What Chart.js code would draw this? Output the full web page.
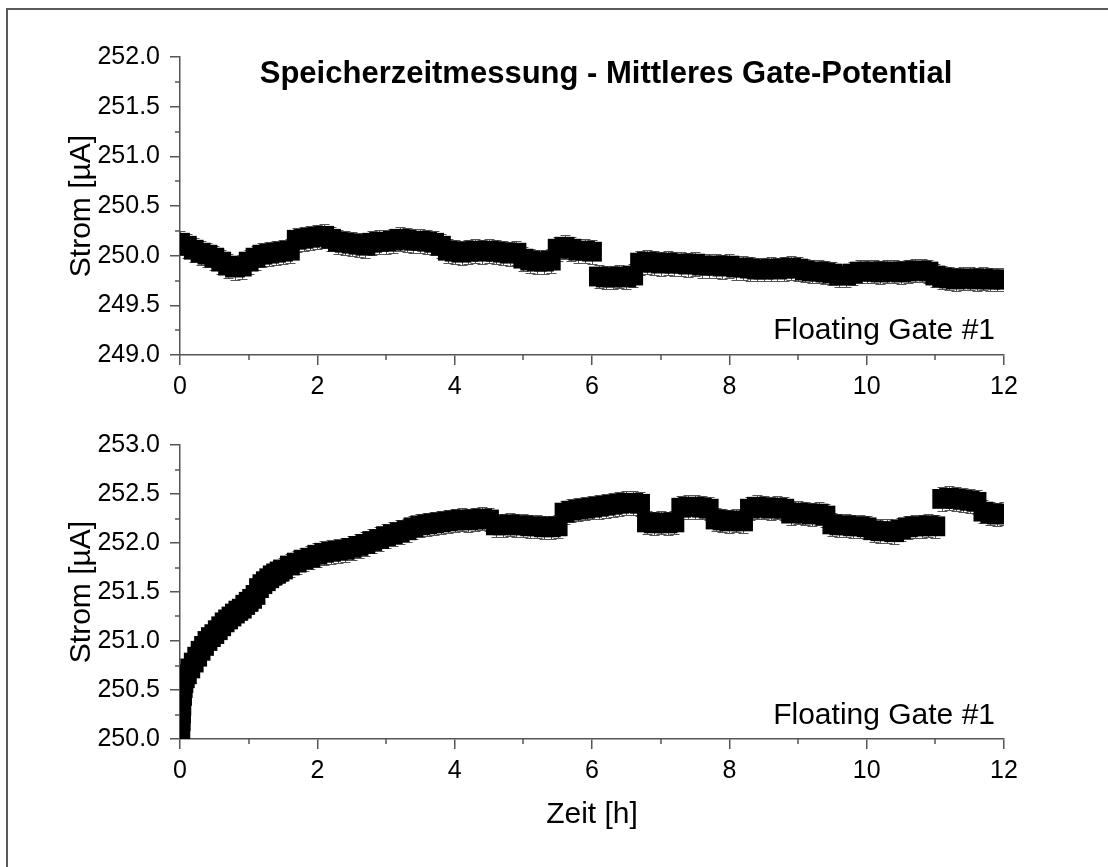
<!DOCTYPE html>
<html>
<head>
<meta charset="utf-8">
<script src="https://cdn.jsdelivr.net/npm/chart.js@4/dist/chart.umd.min.js"></script>
<style>
  html, body { margin: 0; padding: 0; background: #fff; }
  #wrap { position: relative; width: 1108px; height: 867px; overflow: hidden; }
  #frame { position: absolute; left: 6px; top: 8px; width: 1110px; height: 870px;
           border-left: 2px solid #5a5a5a; border-top: 2px solid #5a5a5a; }
  canvas { position: absolute; left: 0; }
  #c1 { top: 0; }
  #c2 { top: 420px; }
</style>
</head>
<body>
<div id="wrap">
  <div id="frame"></div>
  <canvas id="c1" width="1108" height="420"></canvas>
  <canvas id="c2" width="1108" height="447"></canvas>
</div>
<script>
const chartTitle = 'Speicherzeitmessung - Mittleres Gate-Potential';
const panelLabel = 'Floating Gate #1';
const xTitle = 'Zeit [h]';
const yTitle = 'Strom [µA]';

// Panel 1 (upper)
const timeTop = [
  0.0, 0.1, 0.2, 0.3, 0.4, 0.5, 0.6, 0.7, 0.8, 0.9,
  1.0, 1.1, 1.2, 1.3, 1.4, 1.5, 1.6, 1.7, 1.8, 1.9,
  2.0, 2.1, 2.2, 2.3, 2.4, 2.5, 2.6, 2.7, 2.8, 2.9,
  3.0, 3.1, 3.2, 3.3, 3.4, 3.5, 3.6, 3.7, 3.8, 3.9,
  4.0, 4.1, 4.2, 4.3, 4.4, 4.5, 4.6, 4.7, 4.8, 4.9,
  5.0, 5.1, 5.2, 5.3, 5.4, 5.5, 5.6, 5.7, 5.8, 5.9,
  6.0, 6.1, 6.2, 6.3, 6.4, 6.5, 6.6, 6.7, 6.8, 6.9,
  7.0, 7.1, 7.2, 7.3, 7.4, 7.5, 7.6, 7.7, 7.8, 7.9,
  8.0, 8.1, 8.2, 8.3, 8.4, 8.5, 8.6, 8.7, 8.8, 8.9,
  9.0, 9.1, 9.2, 9.3, 9.4, 9.5, 9.6, 9.7, 9.8, 9.9,
  10.0, 10.1, 10.2, 10.3, 10.4, 10.5, 10.6, 10.7, 10.8, 10.9,
  11.0, 11.1, 11.2, 11.3, 11.4, 11.5, 11.6, 11.7, 11.8, 11.9, 12.0
];
const currentTop = [
  250.13, 250.10, 250.06, 250.03, 250.01, 249.98, 249.94, 249.90, 249.88, 249.89,
  249.94, 249.98, 250.01, 250.02, 250.03, 250.04, 250.05, 250.16, 250.17, 250.18,
  250.19, 250.20, 250.17, 250.14, 250.13, 250.12, 250.11, 250.10, 250.13, 250.14,
  250.14, 250.15, 250.17, 250.16, 250.15, 250.15, 250.14, 250.13, 250.10, 250.05,
  250.04, 250.03, 250.04, 250.05, 250.04, 250.05, 250.04, 250.03, 250.02, 250.03,
  249.97, 249.95, 249.94, 249.94, 249.95, 250.07, 250.09, 250.07, 250.05, 250.05,
  250.04, 249.79, 249.78, 249.78, 249.79, 249.78, 249.80, 249.93, 249.94, 249.93,
  249.92, 249.93, 249.92, 249.92, 249.91, 249.92, 249.90, 249.90, 249.90, 249.89,
  249.90, 249.88, 249.88, 249.87, 249.86, 249.86, 249.87, 249.86, 249.87, 249.88,
  249.87, 249.85, 249.84, 249.84, 249.83, 249.82, 249.80, 249.80, 249.82, 249.84,
  249.84, 249.84, 249.83, 249.84, 249.84, 249.83, 249.84, 249.85, 249.85, 249.84,
  249.80, 249.78, 249.77, 249.76, 249.77, 249.77, 249.76, 249.77, 249.76, 249.76, 249.76
];

// Panel 2 (lower)
const timeBottom = [
  0.0, 0.005, 0.01, 0.015, 0.02, 0.03, 0.04, 0.05, 0.07,
  0.1, 0.15, 0.2, 0.25, 0.3, 0.35, 0.4, 0.45, 0.5, 0.55, 0.6, 0.65, 0.7, 0.75, 0.8, 0.85, 0.9, 0.95,
  1.0, 1.05, 1.1, 1.15, 1.2, 1.25, 1.3, 1.35, 1.4, 1.45, 1.5, 1.6, 1.7, 1.8, 1.9,
  2.0, 2.1, 2.2, 2.3, 2.4, 2.5, 2.6, 2.7, 2.8, 2.9,
  3.0, 3.1, 3.2, 3.3, 3.4, 3.5, 3.6, 3.7, 3.8, 3.9,
  4.0, 4.1, 4.2, 4.3, 4.4, 4.5, 4.6, 4.7, 4.8, 4.9,
  5.0, 5.1, 5.2, 5.3, 5.4, 5.5, 5.6, 5.7, 5.8, 5.9,
  6.0, 6.1, 6.2, 6.3, 6.4, 6.5, 6.6, 6.7, 6.8, 6.9,
  7.0, 7.1, 7.2, 7.3, 7.4, 7.5, 7.6, 7.7, 7.8, 7.9,
  8.0, 8.1, 8.2, 8.3, 8.4, 8.5, 8.6, 8.7, 8.8, 8.9,
  9.0, 9.1, 9.2, 9.3, 9.4, 9.5, 9.6, 9.7, 9.8, 9.9,
  10.0, 10.1, 10.2, 10.3, 10.4, 10.5, 10.6, 10.7, 10.8, 10.9,
  11.0, 11.1, 11.2, 11.3, 11.4, 11.5, 11.6, 11.7, 11.8, 11.9, 12.0
];
const currentBottom = [
  250.03, 250.10, 250.18, 250.26, 250.34, 250.44, 250.52, 250.57, 250.62,
  250.66, 250.72, 250.78, 250.84, 250.90, 250.95, 251.00, 251.04, 251.07, 251.11, 251.15, 251.19, 251.22, 251.25, 251.28, 251.31, 251.33, 251.37,
  251.40, 251.43, 251.47, 251.54, 251.58, 251.61, 251.64, 251.67, 251.69, 251.71, 251.73, 251.77, 251.80, 251.83, 251.85,
  251.88, 251.90, 251.91, 251.92, 251.93, 251.95, 251.97, 251.99, 252.02, 252.04,
  252.07, 252.09, 252.11, 252.13, 252.16, 252.18, 252.19, 252.20, 252.21, 252.22,
  252.23, 252.24, 252.23, 252.24, 252.25, 252.24, 252.18, 252.18, 252.19, 252.18,
  252.18, 252.17, 252.17, 252.16, 252.16, 252.17, 252.31, 252.33, 252.34, 252.35,
  252.36, 252.37, 252.38, 252.39, 252.40, 252.41, 252.41, 252.40, 252.21, 252.20,
  252.21, 252.20, 252.21, 252.36, 252.37, 252.37, 252.36, 252.35, 252.24, 252.23,
  252.22, 252.23, 252.22, 252.35, 252.37, 252.36, 252.35, 252.36, 252.35, 252.30,
  252.31, 252.30, 252.29, 252.30, 252.28, 252.19, 252.18, 252.18, 252.17, 252.17,
  252.16, 252.13, 252.12, 252.12, 252.11, 252.14, 252.16, 252.17, 252.17, 252.18,
  252.17, 252.45, 252.46, 252.45, 252.44, 252.43, 252.42, 252.32, 252.30, 252.29, 252.30
];

const errHalf = 0.12;       // half length of the error bars
const yRangeTop = [249, 252];
const yRangeBottom = [250, 253];
const xRange = [0, 12];

const FONT = 'Arial, "Liberation Sans", sans-serif';
const AXIS = '#555';

// error bars (under the markers), minor ticks and free text
const extras = {
  id: 'extras',
  beforeDatasetsDraw(chart) {
    const ctx = chart.ctx;
    const xs = chart.scales.x, ys = chart.scales.y;
    const area = chart.chartArea;
    const pts = chart.data.datasets[0].data;
    ctx.save();
    ctx.beginPath();
    ctx.rect(area.left, area.top, area.right - area.left, area.bottom - area.top);
    ctx.clip();
    ctx.strokeStyle = '#555';
    ctx.lineWidth = 1;
    ctx.beginPath();
    pts.forEach(p => {
      const px = Math.round(xs.getPixelForValue(p.x)) + 0.5;
      const y1 = Math.round(ys.getPixelForValue(p.y + errHalf)) + 0.5;
      const y2 = Math.round(ys.getPixelForValue(p.y - errHalf)) + 0.5;
      ctx.moveTo(px, y1); ctx.lineTo(px, y2);
      ctx.moveTo(px - 5, y1); ctx.lineTo(px + 5, y1);
      ctx.moveTo(px - 5, y2); ctx.lineTo(px + 5, y2);
    });
    ctx.stroke();
    ctx.restore();
  },
  afterDatasetsDraw(chart, args, opts) {
    const ctx = chart.ctx;
    const xs = chart.scales.x, ys = chart.scales.y;
    const area = chart.chartArea;
    ctx.save();
    ctx.strokeStyle = AXIS;
    ctx.lineWidth = 1.5;
    ctx.beginPath();
    for (let t = xs.min + 1; t < xs.max; t += 2) {
      const px = Math.round(xs.getPixelForValue(t));
      ctx.moveTo(px, area.bottom); ctx.lineTo(px, area.bottom + 5);
    }
    for (let v = ys.min + 0.25; v < ys.max; v += 0.5) {
      const py = Math.round(ys.getPixelForValue(v));
      ctx.moveTo(area.left, py); ctx.lineTo(area.left - 5, py);
    }
    ctx.stroke();

    ctx.fillStyle = '#000';
    ctx.textBaseline = 'middle';
    if (opts.title) {
      ctx.font = 'bold 31px ' + FONT;
      ctx.textAlign = 'center';
      ctx.fillText(opts.title, opts.titleX, opts.titleY);
    }
    ctx.font = '30px ' + FONT;
    ctx.textAlign = 'right';
    ctx.fillText(opts.label, opts.labelX, opts.labelY);
    ctx.restore();
  }
};

function makePanel(canvasId, times, values, yRange, cfg) {
  const points = times.map((t, i) => ({ x: t, y: values[i] }));
  return new Chart(document.getElementById(canvasId), {
    type: 'scatter',
    data: {
      datasets: [{
        data: points,
        pointStyle: 'rect',
        pointRadius: 14,
        backgroundColor: '#000',
        borderWidth: 0,
        showLine: false,
        clip: 0
      }]
    },
    options: {
      responsive: false,
      animation: false,
      layout: { padding: { left: 0, right: 104, top: cfg.padTop, bottom: 0 } },
      plugins: {
        legend: { display: false },
        tooltip: { enabled: false },
        extras: cfg.extras
      },
      scales: {
        x: {
          type: 'linear',
          min: xRange[0], max: xRange[1],
          afterFit: s => { s.height = cfg.xHeight; },
          grid: { drawOnChartArea: false, drawTicks: true, tickLength: 10, color: AXIS, lineWidth: 1.5 },
          border: { color: AXIS, width: 1.5 },
          ticks: { stepSize: 2, color: '#000', padding: 7, font: { family: FONT, size: 25 } },
          title: {
            display: !!cfg.xTitle, text: cfg.xTitle || '', color: '#000',
            font: { family: FONT, size: 30 }, padding: { top: 0, bottom: 34 }
          }
        },
        y: {
          type: 'linear',
          min: yRange[0], max: yRange[1],
          afterFit: s => { s.width = 180; },
          grid: { drawOnChartArea: false, drawTicks: true, tickLength: 10, color: AXIS, lineWidth: 1.5 },
          border: { color: AXIS, width: 1.5 },
          ticks: {
            stepSize: 0.5, color: '#000', padding: 10,
            font: { family: FONT, size: 25 },
            callback: v => v.toFixed(1)
          },
          title: {
            display: true, text: yTitle, color: '#000',
            font: { family: FONT, size: 30 }, padding: { top: 64, bottom: 0 }
          }
        }
      }
    },
    plugins: [extras]
  });
}

makePanel('c1', timeTop, currentTop, yRangeTop, {
  padTop: 57,
  xHeight: 65,
  extras: { title: chartTitle, titleX: 606, titleY: 74, label: panelLabel, labelX: 995, labelY: 331 }
});

makePanel('c2', timeBottom, currentBottom, yRangeBottom, {
  padTop: 21,
  xHeight: 128,
  xTitle: xTitle,
  extras: { label: panelLabel, labelX: 995, labelY: 296 }
});
</script>
</body>
</html>
